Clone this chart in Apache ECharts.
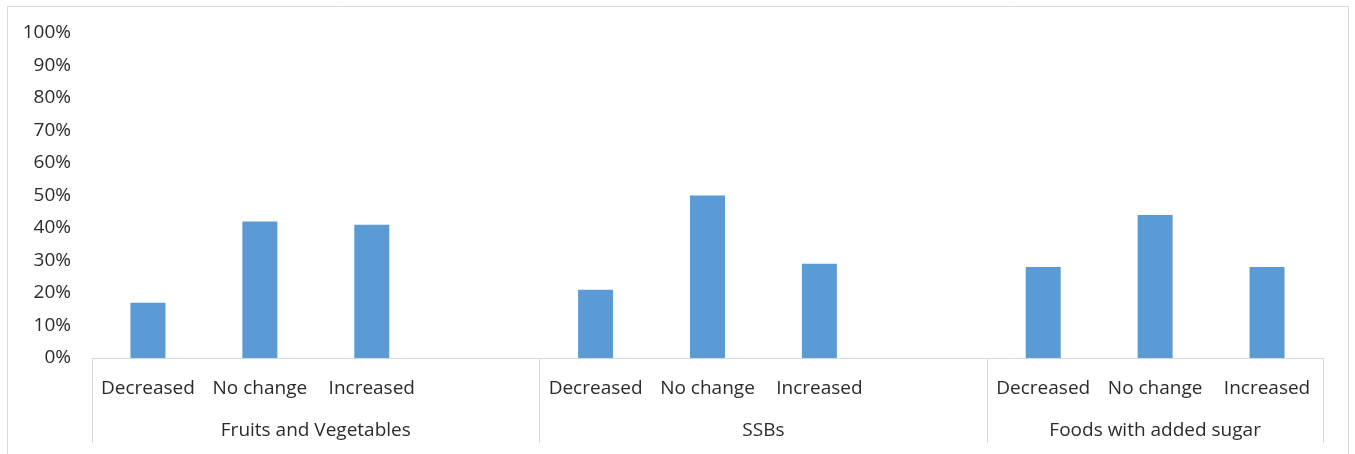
<!DOCTYPE html>
<html>
<head>
<meta charset="utf-8">
<script src="https://cdn.jsdelivr.net/npm/echarts@6/dist/echarts.min.js"></script>
<style>
html,body{margin:0;padding:0;background:#fff;}
#c{width:1355px;height:454px;}
</style>
</head>
<body>
<div id="c"></div>
<script>
// Data
var categories = ['Decreased','No change','Increased','', 'Decreased','No change','Increased','', 'Decreased','No change','Increased'];
var values = [17, 42, 41, null, 21, 50, 29, null, 28, 44, 28];
var groupNames = ['Fruits and Vegetables', 'SSBs', 'Foods with added sugar'];
var groupSizes = [4, 4, 3];
var yTicks = [0,10,20,30,40,50,60,70,80,90,100];

// Derived group boundaries and centers
var bounds = [0], centers = [];
var acc = 0;
groupSizes.forEach(function(s){ centers.push(acc + s/2); acc += s; bounds.push(acc); });

var font = 'Open Sans';
var txt = '#2b2b2b';
var chart = echarts.init(document.getElementById('c'));
chart.setOption({
  animation: false,
  backgroundColor: '#ffffff',
  graphic: [{
    type: 'rect', shape: {x: 7.5, y: 6.5, width: 1341, height: 460},
    style: {fill: 'none', stroke: '#d9d9d9', lineWidth: 1}, silent: true
  }],
  grid: {left: 92, right: 32, top: 33, bottom: 96, containLabel: false},
  xAxis: [{
    type: 'category',
    data: categories,
    boundaryGap: true,
    axisLine: {show: true, lineStyle: {color: '#d9d9d9', width: 1}},
    axisTick: {show: false},
    axisLabel: {interval: 0, margin: 21, color: txt, fontFamily: font, fontSize: 19},
    splitLine: {show: false}
  }, {
    type: 'value',
    position: 'bottom',
    min: 0, max: acc,
    axisLine: {show: false},
    axisTick: {show: true, customValues: bounds, length: 85, lineStyle: {color: '#d9d9d9', width: 1}},
    axisLabel: {
      show: true, customValues: centers, margin: 63, color: txt, fontFamily: font, fontSize: 19,
      formatter: function(v){ var i = centers.indexOf(v); return i >= 0 ? groupNames[i] : ''; }
    },
    splitLine: {show: false}
  }],
  yAxis: {
    type: 'value',
    min: 0, max: 100, interval: 10,
    axisLine: {show: false},
    axisTick: {show: false},
    splitLine: {show: false},
    axisLabel: {margin: 21, color: txt, fontFamily: font, fontSize: 19, padding: [4, 0, 0, 0],
      customValues: yTicks, formatter: '{value}%'}
  },
  series: [{
    type: 'bar',
    xAxisIndex: 0,
    data: values,
    barWidth: 35,
    itemStyle: {color: '#5b9bd5'}
  }]
});
</script>
</body>
</html>
